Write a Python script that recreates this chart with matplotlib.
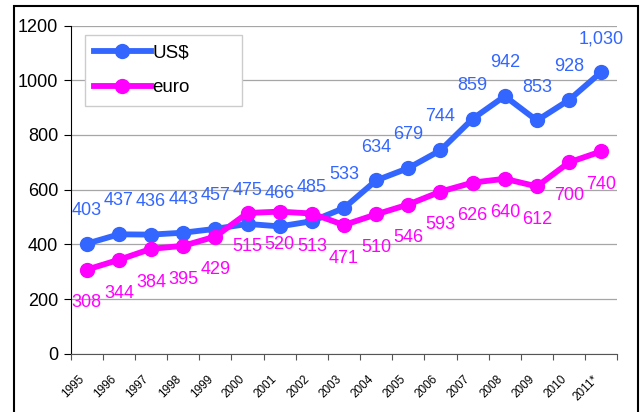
import matplotlib.pyplot as plt
from matplotlib.patches import Rectangle

years = ['1995', '1996', '1997', '1998', '1999', '2000', '2001', '2002', '2003',
         '2004', '2005', '2006', '2007', '2008', '2009', '2010', '2011*']
usd = [403, 437, 436, 443, 457, 475, 466, 485, 533, 634, 679, 744, 859, 942, 853, 928, 1030]
euro = [308, 344, 384, 395, 429, 515, 520, 513, 471, 510, 546, 593, 626, 640, 612, 700, 740]

blue = '#3366FF'
pink = '#FF00FF'
plt.rcParams['font.family'] = ['Liberation Sans', 'DejaVu Sans']

fig = plt.figure(figsize=(6.43, 4.12), dpi=100)
ax = fig.add_axes([0.110, 0.141, 0.850, 0.797])

x = list(range(len(years)))
ax.plot(x, usd, color=blue, lw=4.2, marker='o', ms=10, label='US$', zorder=3)
ax.plot(x, euro, color=pink, lw=4.2, marker='o', ms=10, label='euro', zorder=3)

for i, v in enumerate(usd):
    ax.annotate(f'{v:,}', (i, v), xytext=(0, 24), textcoords='offset points',
                ha='center', va='center', color=blue, fontsize=13)
for i, v in enumerate(euro):
    ax.annotate(f'{v:,}', (i, v), xytext=(0, -24), textcoords='offset points',
                ha='center', va='center', color=pink, fontsize=13)

ax.set_xlim(-0.5, len(years) - 0.5)
ax.set_ylim(0, 1200)
ax.set_yticks(range(0, 1201, 200))
ax.tick_params(axis='y', labelsize=13, length=5, color='black', pad=4)
ax.set_xticks([i - 0.5 for i in range(len(years) + 1)], minor=False)
ax.set_xticklabels([])
ax.set_xticks(x, minor=True)
ax.set_xticklabels(years, minor=True, rotation=45, ha='right', fontsize=8.5)
ax.tick_params(axis='x', which='minor', length=0, pad=14)
ax.tick_params(axis='x', which='major', length=4, color='#555555')
ax.yaxis.grid(True, color='#a6a6a6', lw=0.9)
ax.set_axisbelow(True)
for s in ['top', 'right']:
    ax.spines[s].set_visible(False)
ax.spines['left'].set_color('black')
ax.spines['bottom'].set_color('#555555')

leg = ax.legend(loc='upper left', bbox_to_anchor=(0.026, 0.972, 0.288, 0.0),
                mode='expand', fontsize=13.5, fancybox=False, framealpha=1,
                edgecolor='#cccccc', handlelength=3.0, borderpad=0.5,
                labelspacing=0.95, handletextpad=0.1, borderaxespad=0)

fig.patches.append(Rectangle((0.022, -0.1), 0.97, 1.085, transform=fig.transFigure,
                             fill=False, edgecolor='black', lw=1.5))

fig.savefig('out.png', dpi=100)
